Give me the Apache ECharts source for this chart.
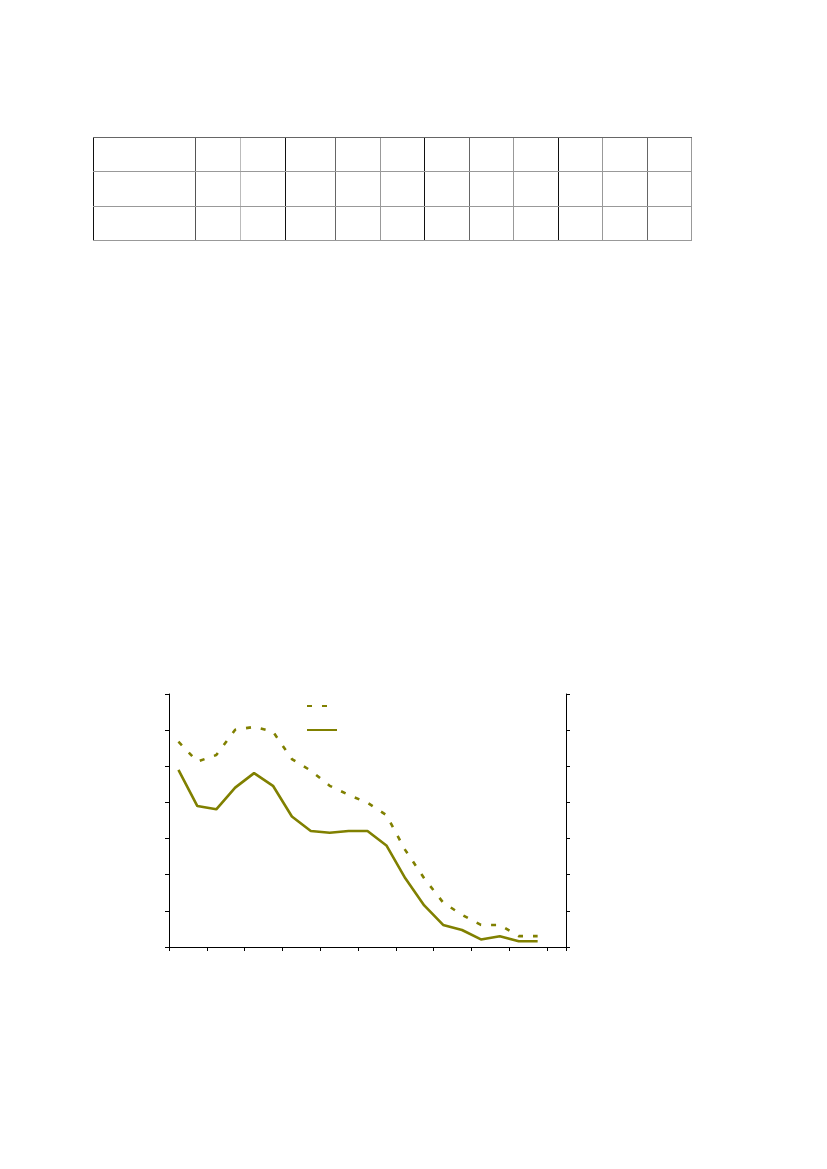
<!DOCTYPE html>
<html>
<head>
<meta charset="utf-8">
<script src="https://cdn.jsdelivr.net/npm/echarts@6/dist/echarts.min.js"></script>
<style>
html,body{margin:0;padding:0;background:#fff;}
#wrap{position:relative;width:827px;height:1169px;overflow:hidden;}
#chart{position:absolute;left:0;top:0;width:827px;height:1169px;}
.vl{position:absolute;width:1px;}
.hl{position:absolute;height:1px;}
</style>
</head>
<body>
<div id="wrap">
<div id="chart"></div>
</div>
<script>
// ---- data ----
var categories = ['1','2','3','4','5','6','7','8','9','10','11','12','13','14','15','16','17','18','19','20',''];
var seriesDashed = [5.68, 5.13, 5.31, 6.01, 6.09, 5.96, 5.20, 4.88, 4.46, 4.21, 3.99, 3.65, 2.68, 1.90, 1.23, 0.89, 0.61, 0.61, 0.30, 0.30];
var seriesSolid  = [4.90, 3.90, 3.81, 4.41, 4.81, 4.46, 3.61, 3.21, 3.16, 3.21, 3.21, 2.81, 1.90, 1.15, 0.61, 0.47, 0.21, 0.30, 0.16, 0.16];
var yTicks = [0,1,2,3,4,5,6,7];

// ---- empty table (layout only) ----
var tableCols = [93, 195, 240, 285, 335, 380, 424, 469, 513, 558, 602, 647, 691];
var colColors = ['#111','#555','#bbb','#111','#666','#999','#111','#666','#999','#111','#999','#666','#999'];
var tableRows = [137, 171, 206, 240];
var rowColors = ['#666','#999','#999','#999'];
var wrap = document.getElementById('wrap');
tableCols.forEach(function(x, i){
  var d = document.createElement('div');
  d.className = 'vl';
  d.style.left = x + 'px';
  d.style.top = tableRows[0] + 'px';
  d.style.height = (tableRows[tableRows.length-1] - tableRows[0] + 1) + 'px';
  d.style.background = colColors[i];
  wrap.appendChild(d);
});
tableRows.forEach(function(y, i){
  var d = document.createElement('div');
  d.className = 'hl';
  d.style.top = y + 'px';
  d.style.left = tableCols[0] + 'px';
  d.style.width = (tableCols[tableCols.length-1] - tableCols[0] + 1) + 'px';
  d.style.background = rowColors[i];
  wrap.appendChild(d);
});

// ---- chart ----
var olive = '#808000';
var chart = echarts.init(document.getElementById('chart'), null, {renderer:'canvas'});
var yAxisCommon = {
  type: 'value', min: yTicks[0], max: yTicks[yTicks.length-1], interval: 1,
  axisLabel: {show:false}, splitLine: {show:false},
  axisLine: {show:true, lineStyle:{color:'#000', width:1}},
  axisTick: {show:true, inside:false, length:4, lineStyle:{color:'#000'}}
};
var legendItemStyle = {color:'transparent', borderColor:'transparent', borderWidth:0, opacity:0};
chart.setOption({
  animation: false,
  backgroundColor: 'transparent',
  grid: {left:169, right:261, top:694, bottom:222, containLabel:false},
  legend: [
    {data:['A'], left:306, top:702, padding:0, itemWidth:20, itemHeight:8, itemGap:0,
     itemStyle: legendItemStyle,
     formatter:function(){return '';}, textStyle:{fontSize:1}},
    {data:['B'], left:306, top:726, padding:0, itemWidth:30, itemHeight:8, itemGap:0,
     itemStyle: legendItemStyle,
     formatter:function(){return '';}, textStyle:{fontSize:1}}
  ],
  xAxis: {
    type: 'category', data: categories, boundaryGap: true,
    axisLabel: {show:false},
    axisLine: {show:true, onZero:false, lineStyle:{color:'#000', width:1}},
    axisTick: {show:true, interval:1, alignWithLabel:false, length:4, lineStyle:{color:'#000'}},
    splitLine: {show:false}
  },
  yAxis: [
    Object.assign({position:'left'}, yAxisCommon),
    Object.assign({position:'right'}, yAxisCommon)
  ],
  series: [
    {name:'A', type:'line', data:seriesDashed, symbol:'none', smooth:false,
     lineStyle:{color:olive, width:2.6, type:[5,10]}, itemStyle:{color:olive}},
    {name:'B', type:'line', data:seriesSolid, symbol:'none', smooth:false,
     lineStyle:{color:olive, width:2.6, type:'solid'}, itemStyle:{color:olive}}
  ]
});
</script>
</body>
</html>
